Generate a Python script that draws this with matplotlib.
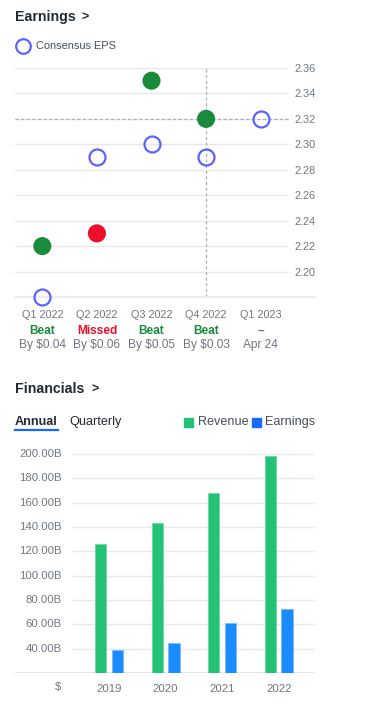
import numpy as np
import matplotlib
matplotlib.use("Agg")
import matplotlib.pyplot as plt

plt.rcParams['font.family'] = ['Liberation Sans', 'DejaVu Sans']

# earnings data
quarters = ['Q1 2022', 'Q2 2022', 'Q3 2022', 'Q4 2022', 'Q1 2023']
eps_actual = [2.22, 2.23, 2.35, 2.32]
eps_estimate = [2.18, 2.29, 2.30, 2.29, 2.32]
result_text = ['Beat', 'Missed', 'Beat', 'Beat', '\u2013']
result_sub = ['By $0.04', 'By $0.06', 'By $0.05', 'By $0.03', 'Apr 24']
eps_ticks = [2.20, 2.22, 2.24, 2.26, 2.28, 2.30, 2.32, 2.34, 2.36]

# financials data
years = ['2019', '2020', '2021', '2022']
revenue = [125.8, 143.0, 168.1, 198.3]
earnings = [39.2, 44.3, 61.3, 72.7]
fin_ticks = [40, 60, 80, 100, 120, 140, 160, 180, 200]

W, H = 372, 710
GREEN = '#1a8a3c'
RED = '#eb0f29'
PURPLE = '#5b63fe'
DARK = '#232a31'
GREY = '#6f7780'
GRID = '#e6e9ee'
REV = '#24c277'
EARN = '#1a8cff'


def fx(x):
    return x / W


def fy(y):
    return 1 - y / H


fig = plt.figure(figsize=(W / 100, H / 100), dpi=100)

# ---------------- Earnings ----------------
fig.text(fx(15), fy(17), 'Earnings', fontsize=10.2, fontweight='bold', color=DARK, va='center')
fig.text(fx(82), fy(18), '>', fontsize=9, fontweight='bold', color=DARK, va='center')
fig.text(fx(36), fy(46), 'Consensus EPS', fontsize=7.9, color='#464e56', va='center')
fig.lines.append(plt.Line2D([fx(23)], [fy(46)], marker='o', markersize=10.5, mfc='none',
                            mec=PURPLE, mew=1.6, transform=fig.transFigure))

ax = fig.add_axes([fx(15), fy(297), fx(273), (297 - 68) / H])
x = np.arange(len(quarters))
ax.set_xlim(-0.5, 4.5)
ax.set_ylim(2.18, 2.36)
for t in eps_ticks:
    ax.axhline(t, color=GRID, lw=1, zorder=0)
ax.plot([0, 1.1], [0, 0], transform=ax.transAxes, color=GRID, lw=1.2, clip_on=False)

# crosshair on Q4 2022
ax.axvline(3, color='#a9afb5', lw=0.9, ls=(0, (2.5, 2)), zorder=1)
ax.plot([0, 1.01], [2.32, 2.32], transform=ax.get_yaxis_transform(), color='#a9afb5', lw=0.9,
        ls=(0, (2.5, 2)), clip_on=False, zorder=1)

colors = [GREEN if r == 'Beat' else RED for r in result_text[:len(eps_actual)]]
ax.scatter(x[:len(eps_actual)], eps_actual, s=170, c=colors, zorder=3, clip_on=False, lw=0)
ax.plot(x, eps_estimate, ls='none', marker='o', markersize=11.5, mfc='none', mec=PURPLE, mew=1.6,
        zorder=3, clip_on=False)

ax.set_yticks(eps_ticks)
ax.set_yticklabels(['%.2f' % t for t in eps_ticks])
ax.yaxis.tick_right()
ax.tick_params(axis='y', length=0, pad=5, labelsize=7.9, labelcolor=GREY)
ax.set_xticks(x)
ax.set_xticklabels(quarters)
ax.tick_params(axis='x', length=0, pad=9, labelsize=7.8, labelcolor=GREY)
for s in ax.spines.values():
    s.set_visible(False)

for i in range(len(quarters)):
    if result_text[i] == 'Beat':
        c = GREEN
    elif result_text[i] == 'Missed':
        c = RED
    else:
        c = GREY
    ax.annotate(result_text[i], xy=(i, 0), xycoords=('data', 'axes fraction'), xytext=(0, -34),
                textcoords='offset pixels', ha='center', va='center', fontsize=8.6,
                fontweight='bold', color=c)
    ax.annotate(result_sub[i], xy=(i, 0), xycoords=('data', 'axes fraction'), xytext=(0, -48),
                textcoords='offset pixels', ha='center', va='center', fontsize=8.6, color=GREY)

# ---------------- Financials ----------------
fig.text(fx(15), fy(389), 'Financials', fontsize=10.2, fontweight='bold', color=DARK, va='center')
fig.text(fx(91), fy(390), '>', fontsize=9, fontweight='bold', color=DARK, va='center')
fig.text(fx(15), fy(422), 'Annual', fontsize=9.1, fontweight='bold', color=DARK, va='center')
fig.lines.append(plt.Line2D([fx(15), fx(58)], [fy(430), fy(430)], color='#0f69ff', lw=1.6,
                            transform=fig.transFigure))
fig.text(fx(69), fy(422), 'Quarterly', fontsize=9.1, color=DARK, va='center')
fig.patches.append(plt.Rectangle((fx(184), fy(427)), fx(9), 9 / H, color=REV, transform=fig.transFigure))
fig.text(fx(198), fy(422), 'Revenue', fontsize=9.1, color='#464e56', va='center')
fig.patches.append(plt.Rectangle((fx(252), fy(427)), fx(9), 9 / H, color='#1a6aff',
                                 transform=fig.transFigure))
fig.text(fx(265), fy(422), 'Earnings', fontsize=9.1, color='#464e56', va='center')

bx = fig.add_axes([fx(15), fy(673), fx(300), (673 - 454) / H])
xi = np.arange(len(years))
bx.set_xlim(-1.66, 3.64)
bx.set_ylim(20, 200)
for t in fin_ticks:
    bx.axhline(t, xmin=0.19, color=GRID, lw=1, zorder=0)
bx.axhline(20, color='#e0e4e9', lw=1.4, zorder=0)
bx.bar(xi - 0.148, revenue, width=0.2, color=REV, edgecolor='#6fd9a6', lw=0.6, zorder=2)
bx.bar(xi + 0.148, earnings, width=0.2, color=EARN, edgecolor='#7ab9ff', lw=0.6, zorder=2)
for t in fin_ticks:
    bx.text(-0.83, t, '%.2fB' % t, ha='right', va='center', fontsize=8.2, color=GREY)
bx.set_xticks(xi)
bx.set_xticklabels(years)
bx.tick_params(axis='x', length=0, pad=8, labelsize=8.2, labelcolor=GREY)
bx.set_yticks([])
bx.annotate('$', xy=(-0.9, 0), xycoords=('data', 'axes fraction'), xytext=(0, -14),
            textcoords='offset pixels', ha='center', va='center', fontsize=8.2, color=GREY)
for s in bx.spines.values():
    s.set_visible(False)

fig.savefig('out.png', dpi=100)
